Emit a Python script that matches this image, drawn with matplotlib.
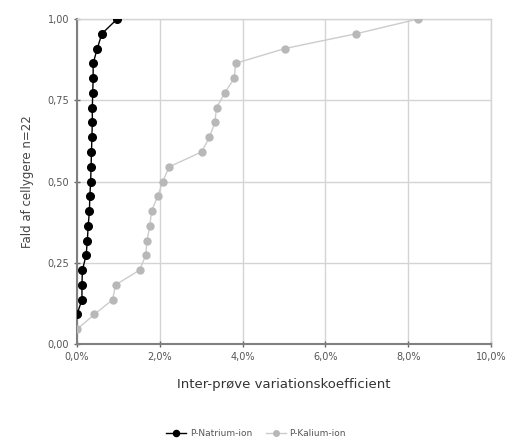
import numpy as np
import matplotlib
matplotlib.use('Agg')
import matplotlib.pyplot as plt
from matplotlib.ticker import FuncFormatter

n_cells = 22

# P-Natrium-ion: variationskoefficient (%) for k = 2..22
natrium_k = np.arange(2, 23)
natrium_cv = [0.00, 0.12, 0.12, 0.13, 0.22, 0.25, 0.27, 0.30, 0.31, 0.33, 0.34,
              0.35, 0.36, 0.37, 0.37, 0.38, 0.39, 0.39, 0.49, 0.60, 0.97]

# P-Kalium-ion: variationskoefficient (%) for k = 1..22
kalium_k = np.arange(1, 23)
kalium_cv = [0.00, 0.42, 0.86, 0.93, 1.51, 1.66, 1.69, 1.76, 1.80, 1.95, 2.07,
             2.23, 3.01, 3.20, 3.33, 3.37, 3.57, 3.80, 3.83, 5.02, 6.74, 8.24]

x_ticks = [0, 2, 4, 6, 8, 10]
y_ticks = [0, 0.25, 0.5, 0.75, 1.0]

fig = plt.figure(figsize=(5.12, 4.44), dpi=100)
ax = fig.add_axes([77 / 512, 1 - 344 / 444, (491 - 77) / 512, (344 - 19) / 444])

ax.plot(natrium_cv, natrium_k / n_cells, color='black', lw=1.0, marker='o',
        markersize=5.5, markerfacecolor='black', markeredgecolor='black',
        label='P-Natrium-ion', zorder=3)
ax.plot(kalium_cv, kalium_k / n_cells, color='#cccccc', lw=1.0, marker='o',
        markersize=5, markerfacecolor='#b8b8b8', markeredgecolor='#b8b8b8',
        label='P-Kalium-ion', zorder=4)

ax.set_xlim(0, 10)
ax.set_ylim(0, 1.0)
ax.set_xticks(x_ticks)
ax.set_yticks(y_ticks)
ax.xaxis.set_major_formatter(FuncFormatter(lambda v, p: ('%.1f%%' % v).replace('.', ',')))
ax.yaxis.set_major_formatter(FuncFormatter(lambda v, p: ('%.2f' % v).replace('.', ',')))
ax.tick_params(direction='inout', length=4, width=1, colors='#666666',
               labelsize=7, labelcolor='#555555')
ax.grid(True, color='#d4d4d4', lw=1.0)
ax.set_axisbelow(True)
for s in ['top', 'right']:
    ax.spines[s].set_color('#d4d4d4')
    ax.spines[s].set_linewidth(1.0)
for s in ['left', 'bottom']:
    ax.spines[s].set_color('#808080')
    ax.spines[s].set_linewidth(1.5)

ax.set_xlabel('Inter-prøve variationskoefficient', fontsize=9.5, color='#333333', labelpad=12)
ax.set_ylabel('Fald af cellygere n=22', fontsize=8.5, color='#444444', labelpad=10)

fig.legend(loc='lower center', bbox_to_anchor=(0.5, -0.005), ncol=2, frameon=False,
           fontsize=6.5, handlelength=2.2, columnspacing=1.5, handletextpad=0.4,
           markerscale=0.8, labelcolor='#555555')

fig.savefig('out.png', dpi=100)
